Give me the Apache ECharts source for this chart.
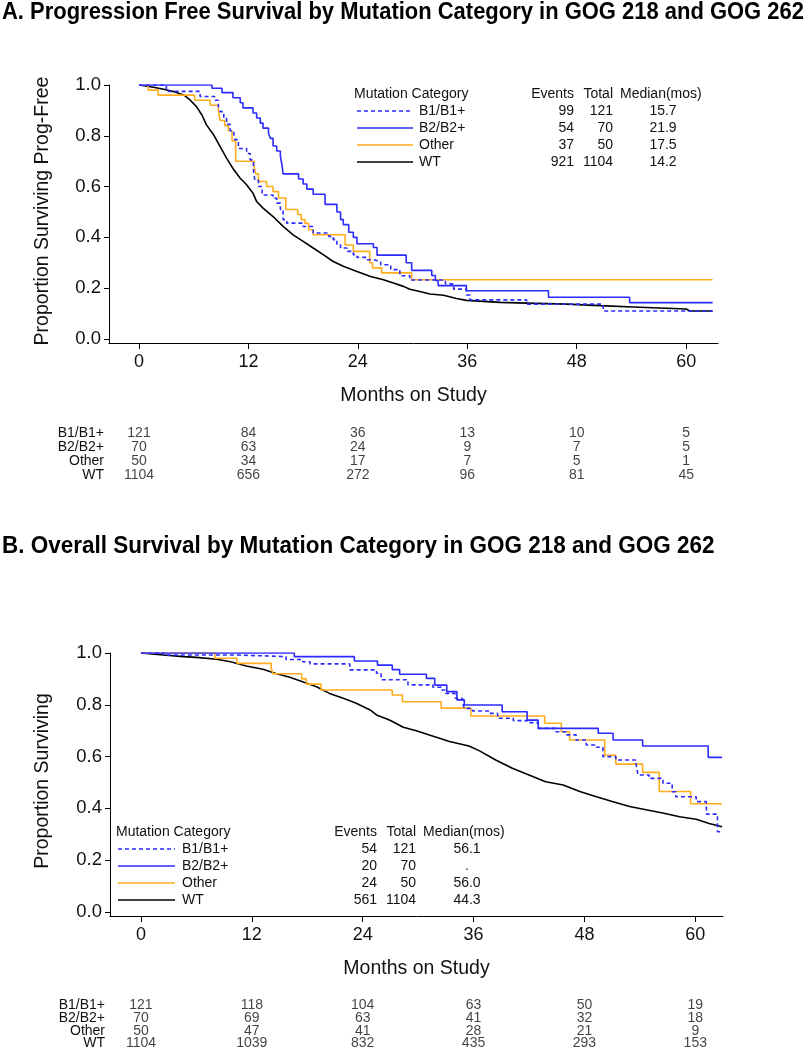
<!DOCTYPE html>
<html>
<head>
<meta charset="utf-8">
<script src="https://cdn.jsdelivr.net/npm/echarts@6/dist/echarts.min.js"></script>
<style>html,body{margin:0;padding:0;background:#fff}#c{width:808px;height:1050px}</style>
</head>
<body>
<div id="c"></div>
<script>
// ---------- DATA ----------
const titleA = 'A. Progression Free Survival by Mutation Category in GOG 218 and GOG 262';
const titleB = 'B. Overall Survival by Mutation Category in GOG 218 and GOG 262';
const groups = ['B1/B1+', 'B2/B2+', 'Other', 'WT'];
const tickMonths = [0, 12, 24, 36, 48, 60];
const yTicks = [0, 0.2, 0.4, 0.6, 0.8, 1.0];

// Panel A: progression-free survival curves [month, proportion]
const pfsB1 = [[0,1],[3.0,0.975],[6.7,0.955],[8.3,0.94],[8.7,0.915],[8.9,0.895],[9.3,0.87],[9.6,0.845],[10.0,0.82],[10.4,0.805],[10.5,0.785],[10.9,0.75],[11.8,0.73],[12.2,0.705],[12.55,0.665],[12.7,0.625],[13.1,0.60],[13.5,0.567],[14.7,0.554],[15.1,0.535],[15.5,0.51],[15.8,0.47],[16.2,0.456],[18.0,0.443],[19.1,0.417],[20.8,0.404],[21.3,0.391],[21.7,0.371],[22.1,0.358],[22.8,0.345],[23.5,0.332],[23.9,0.321],[25.0,0.312],[25.7,0.305],[26.5,0.292],[27.6,0.273],[28.6,0.249],[29.7,0.232],[33.6,0.217],[34.5,0.196],[35.9,0.173],[36.3,0.154],[42.5,0.137],[50.9,0.110],[62.9,0.110]];
const pfsB2 = [[0,1],[8.0,0.987],[9.1,0.97],[10.3,0.95],[11.1,0.93],[11.4,0.91],[12.5,0.89],[12.9,0.87],[13.3,0.85],[13.6,0.83],[14.2,0.81],[14.4,0.79],[14.7,0.76],[15.1,0.74],[15.5,0.72],[15.7,0.68],[15.8,0.65],[17.5,0.63],[18.0,0.61],[18.4,0.59],[19.1,0.57],[20.4,0.53],[21.7,0.50],[22.1,0.47],[22.4,0.45],[23.0,0.42],[23.5,0.40],[23.9,0.375],[25.7,0.36],[26.1,0.33],[29.3,0.30],[29.9,0.27],[32.1,0.25],[32.5,0.23],[32.8,0.21],[35.9,0.19],[44.9,0.164],[53.8,0.143],[62.9,0.143]];
const pfsOther = [[0,1],[1.0,0.98],[2.1,0.96],[6.1,0.94],[7.8,0.92],[8.7,0.90],[8.9,0.86],[9.4,0.84],[9.8,0.82],[10.2,0.78],[10.6,0.70],[12.6,0.68],[12.8,0.65],[13.1,0.62],[14.0,0.60],[14.7,0.58],[15.3,0.555],[16.1,0.51],[17.4,0.49],[17.8,0.47],[18.2,0.455],[18.6,0.43],[19.1,0.41],[22.6,0.37],[23.5,0.345],[25.3,0.30],[25.6,0.28],[26.6,0.26],[29.9,0.233],[62.9,0.233]];
const pfsWT = [[0,1],[1.6,0.991],[2.7,0.983],[3.8,0.974],[4.9,0.961],[5.6,0.941],[6.3,0.915],[6.9,0.882],[7.4,0.843],[8.2,0.803],[8.9,0.757],[9.6,0.712],[10.4,0.666],[11.1,0.633],[11.8,0.607],[12.5,0.574],[12.9,0.541],[13.6,0.515],[14.7,0.482],[15.8,0.443],[16.9,0.41],[18.0,0.384],[19.1,0.358],[20.2,0.332],[21.3,0.305],[22.4,0.286],[23.9,0.266],[25.4,0.246],[26.8,0.233],[27.9,0.22],[29.0,0.207],[29.7,0.196],[30.8,0.187],[31.9,0.177],[33.4,0.172],[34.8,0.159],[35.9,0.152],[37.8,0.148],[39.6,0.144],[42.5,0.141],[46.9,0.137],[50.5,0.131],[54.2,0.126],[57.1,0.122],[60.0,0.118],[60.4,0.110],[62.9,0.110]];

// Panel B: overall survival curves
const osB1 = [[0,1],[2.5,0.992],[10.7,0.986],[15.7,0.975],[17.5,0.966],[18.3,0.958],[22.6,0.935],[25.5,0.922],[26.0,0.897],[28.9,0.877],[31.6,0.868],[32.5,0.857],[33.0,0.844],[34.0,0.825],[34.8,0.812],[35.0,0.786],[35.9,0.776],[37.7,0.767],[38.6,0.748],[40.3,0.739],[41.9,0.731],[43.0,0.709],[44.9,0.696],[46.0,0.684],[47.1,0.664],[48.2,0.645],[49.3,0.636],[50.0,0.600],[51.4,0.587],[53.6,0.568],[53.8,0.529],[55.0,0.516],[56.5,0.497],[57.5,0.464],[57.9,0.445],[60.1,0.426],[61.2,0.378],[62.4,0.31],[62.9,0.31]];
const osB2 = [[0,1],[16.6,0.986],[23.1,0.969],[25.6,0.953],[27.2,0.936],[28.0,0.918],[30.9,0.902],[31.8,0.876],[33.1,0.851],[34.2,0.819],[35.0,0.799],[39.1,0.773],[41.8,0.741],[43.0,0.709],[49.5,0.69],[51.1,0.664],[54.3,0.641],[61.4,0.597],[62.9,0.597]];
const osOther = [[0,1],[8.0,0.98],[10.4,0.96],[14.1,0.94],[14.3,0.92],[17.4,0.90],[17.9,0.88],[19.5,0.857],[27.2,0.838],[28.3,0.812],[32.5,0.787],[35.7,0.757],[43.7,0.729],[45.5,0.696],[46.4,0.664],[50.2,0.605],[51.4,0.571],[54.3,0.539],[56.1,0.465],[59.5,0.418],[62.9,0.418]];
const osWT = [[0,1],[2.4,0.992],[4.6,0.986],[6.0,0.983],[8.2,0.976],[9.7,0.966],[11.4,0.95],[13.2,0.937],[14.6,0.921],[16.1,0.906],[17.5,0.889],[19.0,0.87],[20.4,0.844],[21.9,0.825],[23.3,0.806],[24.8,0.78],[25.5,0.761],[26.9,0.741],[28.4,0.713],[29.8,0.70],[31.3,0.682],[33.4,0.658],[35.5,0.641],[36.6,0.623],[38.4,0.587],[40.2,0.555],[42.0,0.529],[43.8,0.503],[45.7,0.49],[47.5,0.465],[49.3,0.445],[51.1,0.426],[52.9,0.407],[54.8,0.394],[56.6,0.381],[58.3,0.368],[60.1,0.358],[61.5,0.342],[62.9,0.329]];

// Numbers at risk (rows = groups, columns = tickMonths)
const pfsRiskB1 = [121, 84, 36, 13, 10, 5];
const pfsRiskB2 = [70, 63, 24, 9, 7, 5];
const pfsRiskOther = [50, 34, 17, 7, 5, 1];
const pfsRiskWT = [1104, 656, 272, 96, 81, 45];
const osRiskB1 = [121, 118, 104, 63, 50, 19];
const osRiskB2 = [70, 69, 63, 41, 32, 18];
const osRiskOther = [50, 47, 41, 28, 21, 9];
const osRiskWT = [1104, 1039, 832, 435, 293, 153];

// Legend statistics
const pfsEvents = [99, 54, 37, 921];
const pfsTotal = [121, 70, 50, 1104];
const pfsMedian = ['15.7', '21.9', '17.5', '14.2'];
const osEvents = [54, 20, 24, 561];
const osTotal = [121, 70, 50, 1104];
const osMedian = ['56.1', '.', '56.0', '44.3'];

// ---------- STYLE ----------
const FONT = "'Liberation Sans', Arial, sans-serif";
const colors = ['#2b2bff', '#2b2bff', '#ffad1f', '#000000'];
const dashes = [[4, 3], 'solid', 'solid', 'solid'];
const LW = 1.6;

const chart = echarts.init(document.getElementById('c'), null, {renderer: 'canvas'});

function mainX(gi, min, max) {
  return {
    gridIndex: gi, type: 'value', min: min, max: max,
    axisLine: {show: true, onZero: false, lineStyle: {color: '#000', width: 1}},
    axisTick: {show: true, customValues: tickMonths, length: 6, lineStyle: {color: '#000', width: 1}},
    axisLabel: {customValues: tickMonths, fontSize: 18, color: '#111', margin: 10, fontFamily: FONT},
    splitLine: {show: false},
    name: 'Months on Study', nameLocation: 'middle', nameGap: 43,
    nameTextStyle: {fontSize: 19.5, color: '#111', fontFamily: FONT}
  };
}
function mainY(gi, min) {
  return {
    gridIndex: gi, type: 'value', min: min, max: 1.0,
    axisLine: {show: true, onZero: false, lineStyle: {color: '#000', width: 1}},
    axisTick: {show: true, customValues: yTicks, length: 5, lineStyle: {color: '#000', width: 1}},
    axisLabel: {customValues: yTicks, fontSize: 18.5, color: '#111', margin: 8, fontFamily: FONT,
      formatter: v => v.toFixed(1)},
    splitLine: {show: false}
  };
}
function riskX(gi, min, max) {
  return {gridIndex: gi, type: 'value', min: min, max: max, show: false};
}
function riskY(gi) {
  return {
    gridIndex: gi, type: 'category', data: groups, inverse: true,
    axisLine: {show: false}, axisTick: {show: false}, splitLine: {show: false},
    axisLabel: {interval: 0, fontSize: 14, color: '#111', margin: 5, fontFamily: FONT}
  };
}

function curve(name, data, idx, axisIdx, smoothWT) {
  return {
    type: 'line', name: name, data: data, xAxisIndex: axisIdx, yAxisIndex: axisIdx,
    step: smoothWT ? false : 'end', showSymbol: false, symbol: 'none', silent: true,
    lineStyle: {color: colors[idx], width: LW, type: dashes[idx]},
    z: idx === 3 ? 3 : 4
  };
}

function riskSeries(rows, axisIdx) {
  const data = [];
  rows.forEach((r, gi) => r.forEach((n, mi) => data.push([tickMonths[mi], groups[gi], n])));
  return {
    type: 'scatter', xAxisIndex: axisIdx, yAxisIndex: axisIdx, data: data,
    symbolSize: 0.01, itemStyle: {color: 'rgba(0,0,0,0)'}, silent: true,
    labelLayout: {hideOverlap: false},
    label: {show: true, position: 'inside', formatter: p => String(p.value[2]),
      fontSize: 14, color: '#111', fontFamily: FONT}
  };
}

function legendGraphic(cfg, events, totals, medians) {
  const els = [];
  const f = '14px ' + FONT;
  els.push({type: 'text', x: cfg.left, y: cfg.headY, style: {text: 'Mutation Category', font: f, fill: '#111', verticalAlign: 'middle', align: 'left'}});
  els.push({type: 'text', x: cfg.evR, y: cfg.headY, style: {text: 'Events', font: f, fill: '#111', verticalAlign: 'middle', align: 'right'}});
  els.push({type: 'text', x: cfg.totR, y: cfg.headY, style: {text: 'Total', font: f, fill: '#111', verticalAlign: 'middle', align: 'right'}});
  els.push({type: 'text', x: cfg.medL, y: cfg.headY, style: {text: 'Median(mos)', font: f, fill: '#111', verticalAlign: 'middle', align: 'left'}});
  groups.forEach((g, i) => {
    const y = cfg.row0 + i * cfg.dy;
    els.push({type: 'line', shape: {x1: cfg.lineX1, y1: y, x2: cfg.lineX2, y2: y},
      style: {stroke: colors[i], lineWidth: LW, lineDash: i === 0 ? [4, 3] : null}});
    els.push({type: 'text', x: cfg.nameX, y: y, style: {text: g, font: f, fill: '#111', verticalAlign: 'middle', align: 'left'}});
    els.push({type: 'text', x: cfg.evR, y: y, style: {text: String(events[i]), font: f, fill: '#111', verticalAlign: 'middle', align: 'right'}});
    els.push({type: 'text', x: cfg.totR, y: y, style: {text: String(totals[i]), font: f, fill: '#111', verticalAlign: 'middle', align: 'right'}});
    els.push({type: 'text', x: cfg.medC, y: y, style: {text: medians[i], font: f, fill: '#111', verticalAlign: 'middle', align: 'center'}});
  });
  return els;
}

const option = {
  animation: false,
  backgroundColor: '#fff',
  grid: [
    {left: 109, right: 90, top: 85, bottom: 707},
    {left: 109, right: 90, top: 426, height: 56},
    {left: 110, right: 85, top: 653, bottom: 134},
    {left: 110, right: 85, top: 999, height: 56}
  ],
  xAxis: [mainX(0, -3.29, 63.49), riskX(1, -3.29, 63.49), mainX(2, -3.35, 63.0), riskX(3, -3.35, 63.0)],
  yAxis: [mainY(0, -0.016), riskY(1), mainY(2, -0.0155), riskY(3)],
  series: [
    curve('WT', pfsWT, 3, 0, true),
    curve('Other', pfsOther, 2, 0),
    curve('B2/B2+', pfsB2, 1, 0),
    curve('B1/B1+', pfsB1, 0, 0),
    riskSeries([pfsRiskB1, pfsRiskB2, pfsRiskOther, pfsRiskWT], 1),
    curve('WT', osWT, 3, 2, true),
    curve('Other', osOther, 2, 2),
    curve('B2/B2+', osB2, 1, 2),
    curve('B1/B1+', osB1, 0, 2),
    riskSeries([osRiskB1, osRiskB2, osRiskOther, osRiskWT], 3)
  ],
  graphic: [
    {type: 'text', x: 2, y: 13, scaleX: 0.955,
      style: {text: titleA, font: 'bold 23px ' + FONT, fill: '#000', align: 'left', verticalAlign: 'middle'}},
    {type: 'text', x: 2, y: 547, scaleX: 0.978,
      style: {text: titleB, font: 'bold 23px ' + FONT, fill: '#000', align: 'left', verticalAlign: 'middle'}},
    {type: 'text', x: 43, y: 211, rotation: Math.PI / 2,
      style: {text: 'Proportion Surviving Prog-Free', font: '19.5px ' + FONT, fill: '#111', align: 'center', verticalAlign: 'middle'}},
    {type: 'text', x: 43, y: 781, rotation: Math.PI / 2,
      style: {text: 'Proportion Surviving', font: '19.5px ' + FONT, fill: '#111', align: 'center', verticalAlign: 'middle'}},
    ...legendGraphic({left: 354, headY: 94, row0: 111, dy: 17, lineX1: 357, lineX2: 413, nameX: 419, evR: 574, totR: 613, medL: 620, medC: 663}, pfsEvents, pfsTotal, pfsMedian),
    ...legendGraphic({left: 116, headY: 832, row0: 849, dy: 17, lineX1: 118, lineX2: 175, nameX: 182, evR: 377, totR: 416, medL: 423, medC: 467}, osEvents, osTotal, osMedian)
  ]
};
chart.setOption(option);
</script>
</body>
</html>
